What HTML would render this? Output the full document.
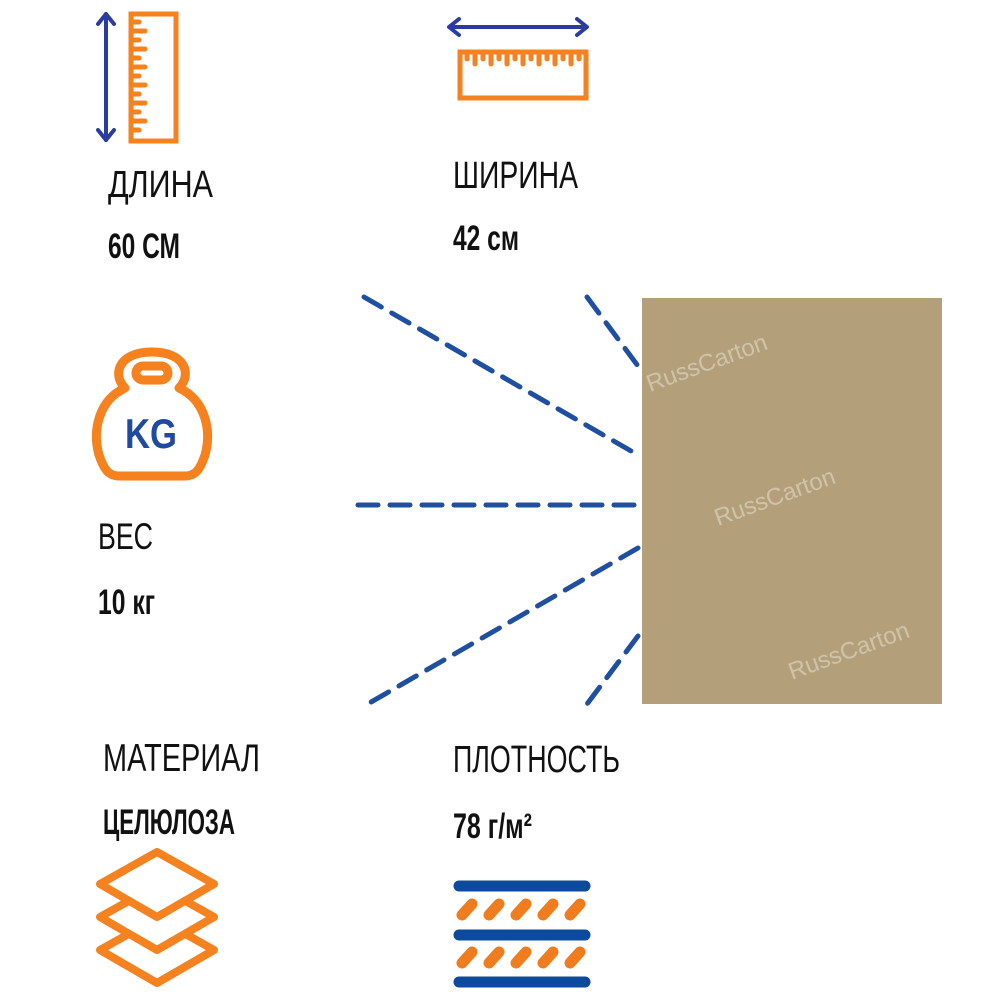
<!DOCTYPE html>
<html><head><meta charset="utf-8"><style>
html,body{margin:0;padding:0;background:#fff;}
svg{display:block}
text{font-family:"Liberation Sans","DejaVu Sans",sans-serif;fill:#111}
</style></head><body>
<svg width="1000" height="1000" viewBox="0 0 1000 1000" xmlns="http://www.w3.org/2000/svg">
<g stroke="#2a3ca0" stroke-width="4" fill="none" stroke-linecap="round" stroke-linejoin="round">
<line x1="106" y1="14" x2="106" y2="140"/>
<polyline points="98,24 106,14 114,24"/>
<polyline points="98,130 106,140 114,130"/>
<line x1="450" y1="27" x2="586" y2="27"/>
<polyline points="459,19 449,27 459,35"/>
<polyline points="577,19 587,27 577,35"/>
</g>
<g stroke="#f5821f" stroke-width="5" fill="none" stroke-linecap="round">
<rect x="131" y="14" width="45" height="127"/>
<path d="M131 22h8M131 31h14M131 40h8M131 49h14M131 58h8M131 67h14M131 76h8M131 85h14M131 94h8M131 103h14M131 112h8M131 121h14M131 130h8"/>
<rect x="460" y="52" width="126" height="46"/>
<path d="M467 52v7M475 52v12M483 52v7M491 52v12M499 52v7M507 52v12M515 52v7M523 52v12M531 52v7M539 52v12M547 52v7M555 52v12M563 52v7M571 52v12M579 52v7"/>
</g>
<g stroke="#f5821f" stroke-width="9" fill="none" stroke-linejoin="round">
<path d="M125 388 C112 375 118 352 152 352 C186 352 192 375 179 388 C205 400 212 430 205 455 C200 470 195 476 185 476 L119 476 C109 476 104 470 99 455 C92 430 99 400 125 388 Z"/>
<rect x="136" y="366" width="32" height="14" rx="7"/>
</g>
<text x="125" y="448" style="font-weight:bold;font-size:42px;fill:#1f4aa0" textLength="52" lengthAdjust="spacingAndGlyphs">KG</text>
<text x="108" y="197" style="font-size:38px" textLength="105" lengthAdjust="spacingAndGlyphs">ДЛИНА</text>
<text x="108" y="258" style="font-size:35px;font-weight:bold" textLength="72" lengthAdjust="spacingAndGlyphs">60 СМ</text>
<text x="453" y="188" style="font-size:38px" textLength="125" lengthAdjust="spacingAndGlyphs">ШИРИНА</text>
<text x="453" y="250" style="font-size:35px;font-weight:bold" textLength="66" lengthAdjust="spacingAndGlyphs">42 см</text>
<text x="98" y="549" style="font-size:37px" textLength="55" lengthAdjust="spacingAndGlyphs">ВЕС</text>
<text x="98" y="614" style="font-size:35px;font-weight:bold" textLength="57" lengthAdjust="spacingAndGlyphs">10 кг</text>
<text x="103" y="771" style="font-size:39px" textLength="157" lengthAdjust="spacingAndGlyphs">МАТЕРИАЛ</text>
<text x="103" y="834" style="font-size:35px;font-weight:bold" textLength="132" lengthAdjust="spacingAndGlyphs">ЦЕЛЮЛОЗА</text>
<text x="453" y="772" style="font-size:38px" textLength="167" lengthAdjust="spacingAndGlyphs">ПЛОТНОСТЬ</text>
<text x="453" y="838" style="font-size:35px;font-weight:bold" textLength="79" lengthAdjust="spacingAndGlyphs">78 г/м²</text>
<g stroke="#1f4fa0" stroke-width="5" stroke-dasharray="20 12" stroke-linecap="round">
<line x1="364" y1="297" x2="638" y2="455"/>
<line x1="587" y1="297" x2="638" y2="366"/>
<line x1="358" y1="505" x2="638" y2="505"/>
<line x1="638" y1="548" x2="366" y2="705"/>
<line x1="638" y1="636" x2="587" y2="704"/>
</g>
<rect x="642" y="298" width="300" height="406" fill="#b3a07a"/>
<g opacity="0.8">
<text transform="translate(650,392) rotate(-20)" style="font-size:24px;fill:#d8ccb6">RussCarton</text>
<text transform="translate(718,526) rotate(-20)" style="font-size:24px;fill:#d8ccb6">RussCarton</text>
<text transform="translate(792,680) rotate(-20)" style="font-size:24px;fill:#d8ccb6">RussCarton</text>
</g>
<g stroke="#f5821f" stroke-width="8" fill="#fff" stroke-linejoin="round">
<polygon points="157,918 214,950 157,983 100,950"/>
<polygon points="157,885 214,917 157,950 100,917"/>
<polygon points="157,852 214,884 157,917 100,884"/>
</g>
<g stroke="#0b4a9c" stroke-width="11" stroke-linecap="round">
<line x1="459" y1="886" x2="585" y2="886"/>
<line x1="459" y1="935" x2="585" y2="935"/>
<line x1="459" y1="982" x2="585" y2="982"/>
</g>
<g stroke="#f07c1e" stroke-width="11" stroke-linecap="round">
<path d="M462 915l10-11M489 915l10-11M516 915l10-11M543 915l10-11M570 915l10-11"/>
<path d="M462 963l10-11M489 963l10-11M516 963l10-11M543 963l10-11M570 963l10-11"/>
</g>
</svg>
</body></html>
